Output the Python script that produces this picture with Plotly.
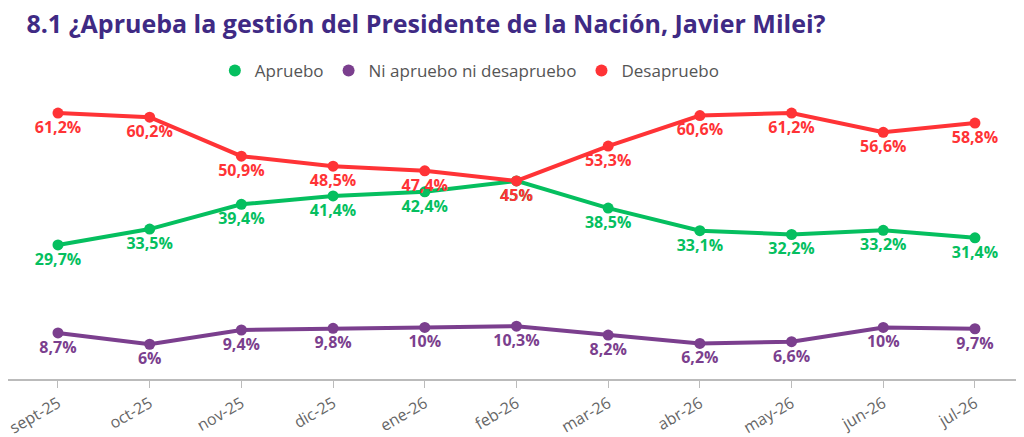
import plotly.graph_objects as go

meses = ["sept-25", "oct-25", "nov-25", "dic-25", "ene-26", "feb-26",
         "mar-26", "abr-26", "may-26", "jun-26", "jul-26"]
apruebo = [29.7, 33.5, 39.4, 41.4, 42.4, 45, 38.5, 33.1, 32.2, 33.2, 31.4]
ni_ni = [8.7, 6, 9.4, 9.8, 10, 10.3, 8.2, 6.2, 6.6, 10, 9.7]
desaprueba = [61.2, 60.2, 50.9, 48.5, 47.4, 45, 53.3, 60.6, 61.2, 56.6, 58.8]

series = [
    ("Apruebo", apruebo, "#05bf5f"),
    ("Ni apruebo ni desapruebo", ni_ni, "#7b3f8e"),
    ("Desapruebo", desaprueba, "#ff3336"),
]


def etiqueta(v):
    # formato con coma decimal, sin decimales si es entero
    if float(v).is_integer():
        return "{}%".format(int(v))
    return "{}%".format(v).replace(".", ",")


fig = go.Figure()
for nombre, valores, color in series:
    fig.add_trace(go.Scatter(
        x=meses,
        y=valores,
        name=nombre,
        mode="lines+markers+text",
        line=dict(color=color, width=4),
        marker=dict(color=color, size=11),
        text=[etiqueta(v) for v in valores],
        textposition="bottom center",
        textfont=dict(family="Open Sans", size=16, color=color, weight="bold"),
        cliponaxis=False,
        showlegend=False,
    ))

# leyenda solo con puntos
for nombre, valores, color in series:
    fig.add_trace(go.Scatter(
        x=[None], y=[None],
        name=nombre,
        mode="markers",
        marker=dict(color=color, size=13),
    ))

# la pagina tiene 8px de margen en el body, por eso todo va corrido
fig.update_layout(
    width=1024,
    height=437,
    margin=dict(l=0, r=10, t=82, b=66),
    paper_bgcolor="white",
    plot_bgcolor="white",
    title=dict(
        text="<b>8.1 ¿Aprueba la gestión del Presidente de la Nación, Javier Milei?</b>",
        x=0.018, xanchor="left",
        y=0.984, yanchor="top",
        font=dict(family="Open Sans", size=25, color="#3f2a84"),
        automargin=False,
    ),
    legend=dict(
        orientation="h",
        x=0.455, xanchor="center",
        y=1.066, yanchor="middle",
        font=dict(family="Open Sans", size=17, color="#555555"),
        itemsizing="constant",
        itemwidth=30,
    ),
    xaxis=dict(
        range=[-0.545, 10.513],
        showgrid=False,
        zeroline=False,
        showline=True,
        linecolor="#bbbbbb",
        linewidth=2,
        ticks="outside",
        ticklen=7,
        tickcolor="#bbbbbb",
        tickangle=-30,
        tickfont=dict(family="Open Sans", size=16, color="#666666"),
        automargin=False,
    ),
    yaxis=dict(
        range=[-2.3, 66.7],
        visible=False,
        automargin=False,
    ),
)

fig.write_html("out.html")
